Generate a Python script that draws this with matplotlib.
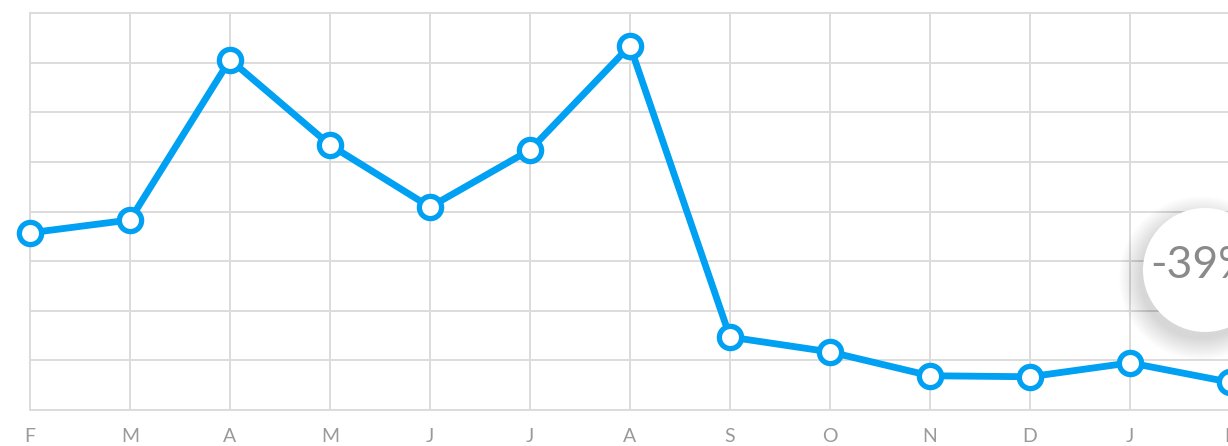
import matplotlib.pyplot as plt
from matplotlib.patches import Circle
import numpy as np

# months along the x axis
months = ['F', 'M', 'A', 'M', 'J', 'J', 'A', 'S', 'O', 'N', 'D', 'J', 'F']
values = [3.57, 3.83, 7.06, 5.34, 4.09, 5.24, 7.34, 1.47, 1.17, 0.69, 0.67, 0.95, 0.56]
bubble_text = '-39%'

W, H = 1228, 446
fig = plt.figure(figsize=(W / 100, H / 100), dpi=100)

# main chart, right edge runs a bit past the figure
ax = fig.add_axes([30 / W, 36 / H, 1200 / W, 397 / H])
x = np.arange(len(months))
ax.plot(x, values, color='#00a0f2', lw=4.9, marker='o', ms=16,
        mfc='white', mec='#00a0f2', mew=3.8, zorder=3, clip_on=False)

ax.set_xlim(0, 12)
ax.set_ylim(0, 8)
ax.set_xticks(x)
ax.set_xticklabels(months, family='Lato', fontsize=14, color='#9a9a9a')
ax.set_yticks(np.arange(0, 9))
ax.set_yticklabels([])
ax.tick_params(length=0, pad=13)
ax.grid(True, color='#dcdcdc', lw=1.4)
for s in ax.spines.values():
    s.set_color('#dcdcdc')
    s.set_linewidth(1.4)

# bubble with soft shadow, drawn in pixel coords
ov = fig.add_axes([0, 0, 1, 1])
ov.set_xlim(0, W)
ov.set_ylim(H, 0)
ov.axis('off')
cx, cy, r = 1205, 270, 62
for i in range(20):
    ov.add_patch(Circle((cx - 4, cy + 8), r + 20 - i * 1.1, color='black',
                        alpha=0.009, lw=0))
ov.add_patch(Circle((cx, cy), r, color='white', lw=0))
ov.text(1150, 266, bubble_text, family='Lato', fontsize=32,
        color='#8a8a8a', ha='left', va='center')

fig.savefig('out.png', dpi=100)
